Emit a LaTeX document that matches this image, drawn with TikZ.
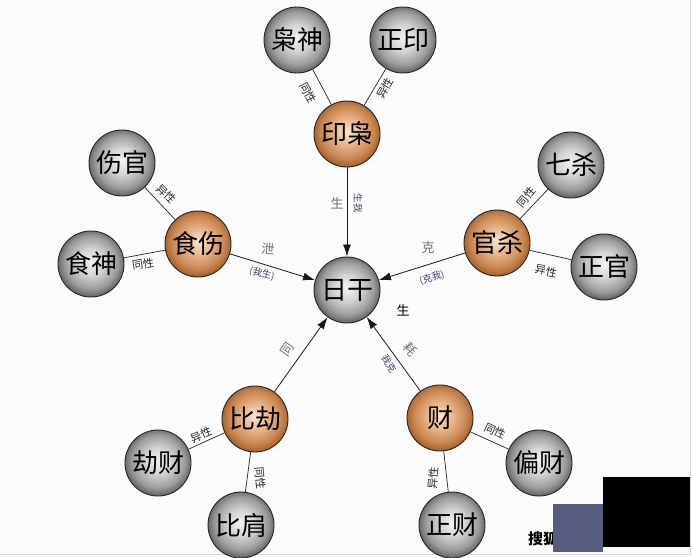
\documentclass[tikz,border=0pt]{standalone}
\usepackage{fontspec}
\newfontfamily\cjk{Noto Sans CJK SC}
\usetikzlibrary{arrows.meta}
\definecolor{gA}{HTML}{F2F2F2}
\definecolor{gB}{HTML}{D4D4D4}
\definecolor{gC}{HTML}{9C9C9C}
\definecolor{gD}{HTML}{6A6A6A}
\definecolor{oA}{HTML}{FAE6D2}
\definecolor{oB}{HTML}{E8B58A}
\definecolor{oC}{HTML}{C98650}
\definecolor{oD}{HTML}{A8652F}
\definecolor{bgc}{HTML}{FBFBFB}
\definecolor{handgray}{HTML}{707070}
\definecolor{handblue}{HTML}{3A4070}
\definecolor{wmblue}{HTML}{585D7F}
\pgfdeclareradialshading{grayball}{\pgfpoint{0bp}{2bp}}{color(0bp)=(gA); color(10bp)=(gB); color(20bp)=(gC); color(25bp)=(gD); color(50bp)=(gD)}
\pgfdeclareradialshading{orangeball}{\pgfpoint{0bp}{2bp}}{color(0bp)=(oA); color(10bp)=(oB); color(20bp)=(oC); color(25bp)=(oD); color(50bp)=(oD)}
\tikzset{
  ball/.style={circle, minimum size=66pt, inner sep=0pt, draw=black!85, line width=0.9pt, font=\cjk\fontsize{26}{26}\selectfont},
  grayb/.style={ball, shade, shading=grayball},
  orangeb/.style={ball, shade, shading=orangeball},
  lnk/.style={draw=black!85, line width=0.7pt},
  arr/.style={draw=black!90, line width=0.8pt, -{Latex[length=12pt,width=8pt]}},
  rel/.style={font=\cjk\fontsize{11}{11}\selectfont, text=black!85, inner sep=0pt},
  handg/.style={font=\cjk\fontsize{13}{13}\selectfont, text=handgray, inner sep=0pt},
  handb/.style={font=\cjk\fontsize{9.5}{9.5}\selectfont, text=handblue, inner sep=0pt},
}
\begin{document}
\begin{tikzpicture}[x=1pt,y=-1pt]
\useasboundingbox (0,0) rectangle (692,557);
\fill[bgc] (0,0) rectangle (692,557);
\draw[black!15, line width=0.8pt] (690,0) -- (690,554) -- (0,554);

% nodes
\node[grayb] (rg) at (347,290) {日干};
\node[orangeb] (yx) at (347,134) {印枭};
\node[grayb] (xs) at (297,40) {枭神};
\node[grayb] (zy) at (403,40) {正印};
\node[orangeb] (ss) at (198,244) {食伤};
\node[grayb] (sg) at (122,163) {伤官};
\node[grayb] (sh) at (91,264) {食神};
\node[orangeb] (gs) at (497,243) {官杀};
\node[grayb] (qs) at (571,165) {七杀};
\node[grayb] (zg) at (604,267) {正官};
\node[orangeb] (bj) at (255,419) {比劫};
\node[grayb] (jc) at (158,463) {劫财};
\node[grayb] (bji) at (241,525) {比肩};
\node[orangeb] (cai) at (440,418) {财};
\node[grayb] (pc) at (539,463) {偏财};
\node[grayb] (zc) at (452,525) {正财};

% relation lines
\draw[lnk] (xs) -- (yx);
\draw[lnk] (zy) -- (yx);
\draw[lnk] (sg) -- (ss);
\draw[lnk] (sh) -- (ss);
\draw[lnk] (qs) -- (gs);
\draw[lnk] (zg) -- (gs);
\draw[lnk] (jc) -- (bj);
\draw[lnk] (bji) -- (bj);
\draw[lnk] (pc) -- (cai);
\draw[lnk] (zc) -- (cai);

% arrows
\draw[arr] (yx) -- (rg);
\draw[arr] (ss) -- (rg);
\draw[arr] (gs) -- (rg);
\draw[arr] (bj) -- (rg);
\draw[arr] (cai) -- (rg);

% relation labels
\node[rel, rotate=-62] (l1) at (308,93) {同性};
\node[rel, rotate=60] (l2) at (385,88) {异性};
\node[rel, rotate=-45] (l3) at (166,194) {异性};
\node[rel, rotate=9] (l4) at (143,264) {同性};
\node[rel, rotate=50] (l5) at (526,197) {同性};
\node[rel, rotate=-12] (l6) at (546,271) {异性};
\node[rel, rotate=23] (l7) at (201,435) {异性};
\node[rel, rotate=-85] (l8) at (260,478) {同性};
\node[rel, rotate=-25] (l9) at (495,431) {同性};
\node[rel, rotate=85] (l10) at (433,478) {异性};

% arrow labels
\node[handg] (a1) at (337,203) {生};
\node[handb, rotate=-90] (a1b) at (358,203) {生我};
\node[handg, rotate=-5] (a2) at (268,249) {泄};
\node[handb, rotate=-15] (a2b) at (262,274) {(我生)};
\node[handg] (a3) at (428,248) {克};
\node[handb, rotate=15] (a3b) at (432,278) {(克我)};
\node[handg, rotate=55] (a4) at (287,350) {同};
\node[handg, rotate=-50] (a5) at (410,349) {耗};
\node[handb, rotate=-60] (a5b) at (389,364) {我克};
\node[font=\cjk\fontsize{13}{13}\selectfont, inner sep=0pt] (a6) at (403,310) {生};

% watermark
\node[font=\cjk\bfseries\fontsize{15}{15}\selectfont, inner sep=0pt] (wm) at (543,539) {搜狐};
\fill[wmblue] (553,504) rectangle (603,552);
\fill[black] (603,477) rectangle (690,547);
\end{tikzpicture}
\end{document}
